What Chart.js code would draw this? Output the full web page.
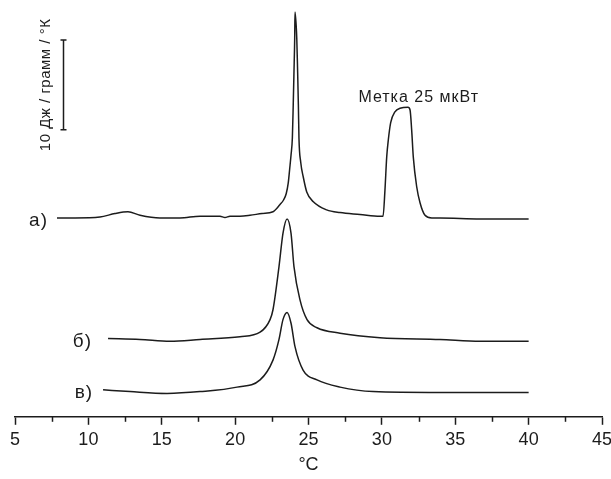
<!DOCTYPE html>
<html>
<head>
<meta charset="utf-8">
<script src="https://cdn.jsdelivr.net/npm/chart.js@4"></script>
<style>
  html, body { margin: 0; padding: 0; background: #fff; }
</style>
</head>
<body>
<canvas id="myChart" width="611" height="479"></canvas>
<script>
// температура, °C
const tempA = [7.86, 9.09, 10.79, 11.81, 12.70, 13.52, 14.88, 16.24, 17.61, 18.97, 19.31, 19.65, 20.33, 21.01, 21.83, 22.58, 23.06, 23.30, 23.48, 23.62, 23.72, 23.81, 23.90, 23.96, 24.01, 24.06, 24.08, 24.20, 24.26, 24.31, 24.35, 24.47, 24.65, 24.88, 25.33, 26.24, 27.15, 28.51, 29.87, 30.08, 30.21, 30.33, 30.44, 30.60, 30.89, 31.24, 31.78, 31.92, 32.03, 32.14, 32.37, 32.60, 32.94, 33.40, 33.96, 36.69, 40.0];
const valA = [22.1, 22.1, 22.2, 22.6, 22.8, 22.4, 22.1, 22.1, 22.3, 22.3, 22.15, 22.3, 22.3, 22.4, 22.6, 22.8, 23.6, 24.1, 24.8, 26.0, 27.6, 29.1, 31.0, 34.7, 38.3, 42.1, 45.0, 42.1, 38.3, 34.7, 31.0, 28.3, 26.6, 25.0, 23.9, 23.0, 22.7, 22.5, 22.3, 22.3, 25.2, 28.9, 30.8, 32.7, 33.9, 34.3, 34.4, 34.1, 31.9, 28.9, 25.6, 23.8, 22.4, 22.1, 22.1, 22.0, 22.0];

const tempB = [11.34, 13.52, 15.56, 17.61, 20.33, 21.70, 22.38, 22.58, 22.99, 23.26, 23.54, 23.81, 24.01, 24.42, 24.90, 25.58, 27.15, 29.87, 33.96, 36.69, 40.0];
const valB = [8.7, 8.6, 8.4, 8.6, 8.9, 9.4, 10.8, 11.9, 16.7, 20.4, 22.0, 20.4, 16.7, 13.0, 10.8, 9.9, 9.3, 8.8, 8.6, 8.4, 8.4];

const tempC = [11.0, 12.84, 15.36, 17.61, 20.13, 21.70, 22.58, 22.99, 23.26, 23.54, 23.81, 24.08, 24.63, 25.58, 27.15, 29.40, 33.96, 40.0];
const valC = [3.0, 2.8, 2.6, 2.8, 3.3, 4.1, 6.3, 8.6, 10.8, 11.6, 10.4, 7.8, 5.2, 4.1, 3.3, 2.8, 2.7, 2.7];

const seriesNames = ["а)", "б)", "в)"];
const xTicks = [5, 10, 15, 20, 25, 30, 35, 40, 45];

// масштабная метка 10 Дж / грамм / °К
const barBottom = 31.9;
const barSize = 10;

const FONT = "'Liberation Sans', Arial, sans-serif";
const INK = "#1c1c1c";

function toPoints(xs, ys) {
  return xs.map(function (x, i) { return { x: x, y: ys[i] }; });
}

const annotations = {
  id: "annotations",
  afterDraw(chart) {
    const ctx = chart.ctx;
    const sx = chart.scales.x;
    const sy = chart.scales.y;
    const base = sx.top;
    ctx.save();
    ctx.strokeStyle = INK;
    ctx.fillStyle = INK;
    ctx.lineWidth = 1.5;

    // minor ticks
    for (let v = sx.min + 2.5; v < sx.max; v += 5) {
      const px = Math.round(sx.getPixelForValue(v)) + 0.5;
      ctx.beginPath();
      ctx.moveTo(px, base);
      ctx.lineTo(px, base + 5);
      ctx.stroke();
    }

    // series labels
    const gaps = [9, 16, 10];
    ctx.font = "19px " + FONT;
    ctx.letterSpacing = "1px";
    ctx.textAlign = "right";
    ctx.textBaseline = "middle";
    chart.data.datasets.forEach(function (ds, i) {
      const p = ds.data[0];
      ctx.fillText(ds.label, sx.getPixelForValue(p.x) - gaps[i], sy.getPixelForValue(p.y) + 3);
    });

    // scale bar
    const bx = Math.round(sx.getPixelForValue(8.27)) + 0.5;
    const y0 = sy.getPixelForValue(barBottom);
    const y1 = sy.getPixelForValue(barBottom + barSize);
    ctx.beginPath();
    ctx.moveTo(bx, y0); ctx.lineTo(bx, y1);
    ctx.moveTo(bx - 3, y0); ctx.lineTo(bx + 3, y0);
    ctx.moveTo(bx - 3, y1); ctx.lineTo(bx + 3, y1);
    ctx.stroke();

    ctx.save();
    ctx.translate(bx - 18, (y0 + y1) / 2);
    ctx.rotate(-Math.PI / 2);
    ctx.font = "15px " + FONT;
    ctx.letterSpacing = "0.5px";
    ctx.textAlign = "center";
    ctx.fillText("10 Дж / грамм / °К", 0, 0);
    ctx.restore();

    // marker label
    ctx.font = "16px " + FONT;
    ctx.letterSpacing = "1px";
    ctx.textAlign = "left";
    ctx.fillText("Метка 25 мкВт", sx.getPixelForValue(28.4), sy.getPixelForValue(35.5));
    ctx.restore();
  }
};

const ctx = document.getElementById("myChart").getContext("2d");

const myChart = new Chart(ctx, {
  type: "line",
  data: {
    datasets: [
      { label: seriesNames[0], data: toPoints(tempA, valA) },
      { label: seriesNames[1], data: toPoints(tempB, valB) },
      { label: seriesNames[2], data: toPoints(tempC, valC) }
    ]
  },
  options: {
    responsive: false,
    animation: false,
    events: [],
    layout: {
      padding: { left: 15, right: 9, top: 3, bottom: 0 }
    },
    elements: {
      point: { radius: 0 },
      line: {
        borderColor: INK,
        borderWidth: 1.5,
        cubicInterpolationMode: "monotone",
        fill: false
      }
    },
    plugins: {
      legend: { display: false },
      tooltip: { enabled: false }
    },
    scales: {
      x: {
        type: "linear",
        min: 5,
        max: 45,
        afterBuildTicks: function (scale) {
          scale.ticks = xTicks.map(function (v) { return { value: v }; });
        },
        afterFit: function (scale) {
          scale.paddingLeft = 0;
          scale.paddingRight = 0;
        },
        border: { display: true, color: INK, width: 1.5 },
        grid: {
          drawOnChartArea: false,
          drawTicks: true,
          tickLength: 8,
          tickColor: INK,
          tickWidth: 1.5
        },
        ticks: {
          color: INK,
          padding: 4,
          maxRotation: 0,
          font: { family: FONT, size: 18 }
        },
        title: {
          display: true,
          text: "°C",
          color: INK,
          padding: { top: 0, bottom: 3 },
          font: { family: FONT, size: 18 }
        }
      },
      y: {
        type: "linear",
        display: false,
        min: 0,
        max: 46
      }
    }
  },
  plugins: [annotations]
});
</script>
</body>
</html>
